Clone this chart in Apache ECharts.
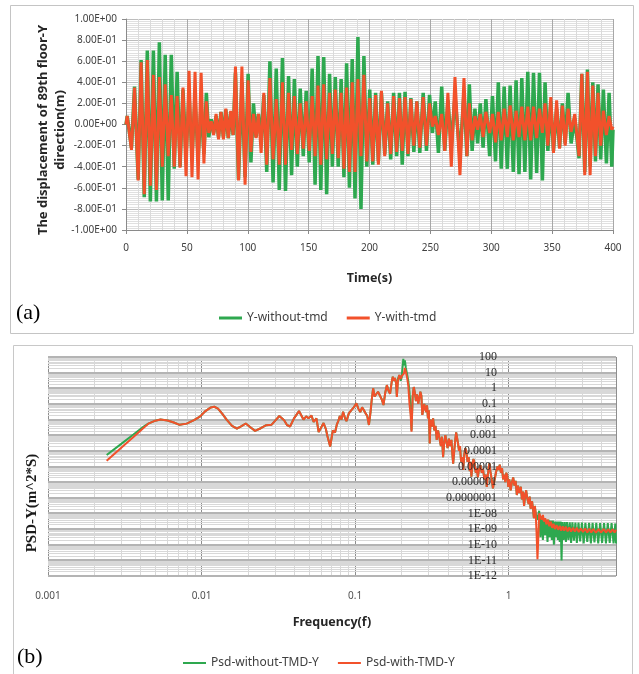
<!DOCTYPE html>
<html><head><meta charset="utf-8">
<script src="https://cdn.jsdelivr.net/npm/echarts@6/dist/echarts.min.js"></script>
<style>html,body{margin:0;padding:0;background:#fff}#c{width:639px;height:674px}</style>
</head><body><div id="c"></div><script>
// ---------- (a) time history ----------
const timeS = [0,1.0,4.5,7.0,10.0,12.4,15.0,17.5,20.0,22.5,25.0,27.4,29.8,32.2,34.7,37.2,39.6,42.0,44.4,46.8,49.3,51.8,54.2,56.7,59.2,61.7,64.0,66.0,68.0,70.0,72.0,74.0,76.0,78.0,80.0,82.0,84.0,86.0,88.0,89.9,92.4,95.2,97.8,100.3,102.6,104.7,106.8,108.8,111.0,113.2,115.6,118.2,120.8,123.4,125.9,128.5,131.0,133.5,136.0,138.3,140.7,143.1,145.6,148.0,150.5,152.9,155.3,157.7,160.0,162.4,164.8,167.2,169.5,171.9,174.3,176.7,179.0,181.2,183.5,185.8,188.1,190.5,193.0,195.4,197.8,200.2,202.7,205.0,207.3,209.8,212.5,214.9,217.4,219.8,222.3,224.6,226.9,229.2,231.6,234.0,236.4,238.9,241.3,244.1,246.8,249.3,251.7,254.0,256.6,259.3,261.8,264.4,267.2,270.2,274.3,277.6,280.0,282.0,284.3,286.6,288.8,291.0,293.3,295.6,298.7,301.0,303.5,305.8,308.2,310.6,313.2,315.5,318.1,320.4,322.8,325.1,327.6,330.0,332.4,334.7,337.3,339.6,342.0,344.2,346.5,348.9,351.1,353.7,356.1,358.4,360.7,363.1,365.6,368.6,372.1,374.4,376.8,379.0,381.2,383.4,385.6,387.7,389.9,392.1,394.6,396.8,399.0,400];
const dispWithoutTmd = [0,0.08,-0.22,0.36,-0.52,0.61,-0.69,0.70,-0.73,0.70,-0.73,0.78,-0.72,0.66,-0.72,0.66,-0.42,0.50,-0.40,0.33,-0.30,0.28,-0.30,0.25,-0.32,0.18,-0.28,0.30,-0.12,0.05,-0.08,0.08,-0.12,0.12,-0.12,0.14,-0.13,0.12,-0.10,0.49,-0.52,0.40,-0.50,0.48,-0.36,0.20,-0.12,0.10,-0.15,0.28,-0.45,0.60,-0.55,0.53,-0.62,0.63,-0.63,0.46,-0.48,0.43,-0.40,0.34,-0.30,0.32,-0.36,0.53,-0.57,0.65,-0.62,0.64,-0.66,0.48,-0.40,0.45,-0.40,0.43,-0.50,0.58,-0.60,0.62,-0.70,0.83,-0.80,0.65,-0.40,0.33,-0.38,0.30,-0.35,0.30,-0.28,0.22,-0.33,0.30,-0.30,0.30,-0.38,0.31,-0.30,0.25,-0.26,0.22,-0.27,0.30,-0.25,0.28,-0.08,0.22,-0.27,0.36,-0.25,0.23,-0.20,0.27,-0.30,0.30,-0.30,0.38,-0.25,0.15,-0.18,0.20,-0.22,0.24,-0.30,0.27,-0.35,0.40,-0.42,0.36,-0.42,0.37,-0.45,0.42,-0.47,0.44,-0.45,0.50,-0.52,0.49,-0.46,0.49,-0.53,0.40,-0.25,0.22,-0.25,0.15,-0.22,0.20,-0.18,0.30,-0.18,0.06,-0.32,0.48,-0.45,0.52,-0.40,0.40,-0.35,0.38,-0.33,0.33,-0.37,0.30,-0.40,-0.05];
const dispWithTmd = [0,0.08,-0.24,0.35,-0.53,0.59,-0.66,0.61,-0.58,0.47,-0.62,0.45,-0.40,0.38,-0.30,0.28,-0.40,0.27,-0.41,0.35,-0.49,0.51,-0.50,0.50,-0.52,0.49,-0.37,0.22,-0.08,0.03,-0.10,0.10,-0.14,0.12,-0.14,0.15,-0.13,0.13,-0.10,0.55,-0.53,0.55,-0.57,0.42,-0.26,0.10,-0.13,0.10,-0.27,0.30,-0.38,0.44,-0.33,0.24,-0.38,0.40,-0.38,0.30,-0.24,0.27,-0.28,0.20,-0.23,0.22,-0.25,0.27,-0.30,0.37,-0.38,0.38,-0.33,0.30,-0.28,0.33,-0.32,0.30,-0.42,0.35,-0.45,0.40,-0.45,0.43,-0.30,0.47,-0.35,0.25,-0.35,0.28,-0.38,0.32,-0.30,0.20,-0.28,0.27,-0.26,0.25,-0.25,0.26,-0.28,0.24,-0.20,0.22,-0.22,0.26,-0.20,0.20,-0.02,0.08,-0.10,0.10,-0.25,0.30,-0.40,0.45,-0.48,0.44,-0.30,0.20,-0.15,0.08,-0.05,0.10,-0.12,0.12,-0.08,0.10,-0.17,0.12,-0.15,0.15,-0.12,0.18,-0.15,0.13,-0.12,0.17,-0.15,0.17,-0.15,0.17,-0.13,0.15,-0.08,0.20,-0.20,0.26,-0.27,0.23,-0.23,0.18,-0.20,0.15,-0.07,0.10,-0.30,0.48,-0.48,0.50,-0.48,0.37,-0.30,0.30,-0.20,0.13,-0.10,0.08,-0.05,-0.02];
const dispTickLabels = ['-1.00E+00','-8.00E-01','-6.00E-01','-4.00E-01','-2.00E-01','0.00E+00','2.00E-01','4.00E-01','6.00E-01','8.00E-01','1.00E+00'];

// ---------- (b) PSD ----------
const psdLowWithout = [[0.00241,5.4e-5],[0.0030,2.8e-4],[0.0036,1.1e-3],[0.0042,3.6e-3]];
const psdLowWith = [[0.00241,2.3e-5],[0.0030,1.6e-4],[0.0036,7.6e-4],[0.0042,3.0e-3]];
const psdSharedA = [[0.0045,5.5e-3],[0.0050,8.5e-3],[0.0054,1.0e-2],[0.0060,8.8e-3],[0.0066,6.5e-3],[0.0072,4.6e-3],[0.0080,5.5e-3],[0.0090,9.5e-3],[0.0098,1.6e-2],[0.0106,3.5e-2],[0.0115,6.0e-2],[0.0121,6.6e-2],[0.0128,5.0e-2],[0.0137,2.2e-2],[0.0146,9.5e-3],[0.0158,4.0e-3],[0.0170,2.6e-3],[0.0182,3.8e-3],[0.0194,5.6e-3],[0.0208,3.2e-3],[0.0223,1.9e-3],[0.0243,2.8e-3],[0.0264,4.4e-3],[0.0285,4.6e-3],[0.0300,8e-3],[0.0321,1.7e-2],[0.0345,9e-3],[0.0360,4.5e-3],[0.0377,3.6e-3],[0.0400,1.2e-2],[0.0431,3.5e-2],[0.0461,1.0e-2],[0.0480,1.6e-2],[0.0497,1.2e-2],[0.0520,1.8e-2],[0.0537,7e-3],[0.0560,1.2e-2],[0.0579,1.6e-3],[0.0600,3e-3],[0.0623,6e-3],[0.0645,2.5e-3],[0.0660,9e-4],[0.0688,1.9e-4],[0.0716,2e-3],[0.0740,1.5e-3],[0.0760,4.7e-3],[0.0780,9e-3],[0.0795,1.7e-2],[0.0815,1.0e-2],[0.0835,3.2e-2],[0.0860,1.2e-2],[0.0878,8e-3],[0.0910,2.5e-2],[0.0946,4e-2],[0.0980,6e-2],[0.102,1.1e-1],[0.105,5e-2],[0.108,3e-2],[0.111,6e-2],[0.114,4e-2],[0.117,2.5e-2],[0.120,1.7e-2],[0.123,4.5e-3],[0.126,3e-2],[0.128,1.5e-1],[0.131,1.0],[0.134,0.3],[0.138,0.23],[0.141,0.6],[0.145,0.45],[0.149,0.2],[0.153,0.085],[0.157,0.5],[0.161,1.6],[0.165,0.7],[0.169,0.45],[0.173,2.5],[0.176,5.5],[0.179,3],[0.182,4.5],[0.185,2]];
const psdPeakWithout = [[0.187,0.3],[0.190,4],[0.194,7],[0.198,3],[0.201,5],[0.204,25],[0.206,75],[0.208,30],[0.211,60],[0.214,20],[0.218,8],[0.222,3],[0.226,0.6],[0.230,0.05],[0.233,2e-3]];
const psdPeakWith = [[0.187,0.28],[0.190,3],[0.194,7],[0.198,4],[0.201,6],[0.204,5],[0.206,7],[0.208,9],[0.211,20],[0.214,16],[0.218,5],[0.222,1.5],[0.226,0.1],[0.230,0.02],[0.233,1.7e-3]];
const psdSharedB = [[0.237,0.3],[0.241,1.2],[0.245,0.5],[0.249,0.15],[0.253,0.4],[0.258,0.1],[0.262,0.25],[0.266,0.6],[0.270,0.35],[0.274,0.02],[0.278,0.015],[0.282,0.1],[0.286,0.05],[0.290,0.03],[0.294,0.08],[0.298,0.012],[0.302,0.04],[0.306,3e-4],[0.310,0.01],[0.316,3.5e-3],[0.322,0.012],[0.328,2e-3],[0.334,4e-3],[0.340,5e-4],[0.347,2e-3],[0.355,1.5e-3],[0.362,2e-4],[0.368,8e-4],[0.374,4e-5],[0.380,3e-4],[0.387,1e-3],[0.393,4e-4],[0.400,1.5e-4],[0.408,6e-4],[0.416,2e-4],[0.424,5e-4],[0.430,6e-5],[0.435,1.5e-5],[0.442,1e-4],[0.450,6e-4],[0.455,1.5e-3],[0.461,1.7e-3],[0.468,3e-4],[0.475,1e-4],[0.482,2e-4],[0.490,2e-5],[0.498,4e-5],[0.506,6e-6],[0.514,6e-5],[0.522,1.5e-4],[0.531,8e-5],[0.540,2e-5],[0.549,4e-5],[0.558,5e-6],[0.565,2e-5],[0.572,2.2e-6],[0.580,1.2e-5],[0.590,3e-5],[0.600,1.5e-5],[0.610,4e-6],[0.620,8e-6],[0.630,2e-6],[0.640,6e-6],[0.655,1.2e-5],[0.668,4e-6],[0.680,7e-6],[0.695,1.5e-6],[0.710,3e-6],[0.720,5e-7],[0.730,2e-6],[0.740,8e-6],[0.750,1.6e-5],[0.760,5e-6],[0.775,1.5e-6],[0.790,4e-7],[0.800,3e-7],[0.815,2e-6],[0.830,5e-6],[0.845,1e-5],[0.860,6e-6],[0.875,1.3e-5],[0.890,4e-6],[0.905,8e-6],[0.920,1.5e-6],[0.935,3e-6],[0.950,1e-6],[0.965,4e-6],[0.980,2.5e-6],[0.995,5e-7],[1.01,1.5e-6],[1.03,3e-7],[1.05,1e-6],[1.07,2e-6],[1.09,6e-7],[1.11,1.2e-6],[1.13,1.5e-7],[1.15,6e-7],[1.17,2e-7],[1.20,5e-7],[1.22,8e-8],[1.24,2.5e-7],[1.26,3e-8],[1.28,1.5e-7],[1.30,3e-7],[1.32,1e-7],[1.35,4e-8],[1.37,1.2e-7],[1.39,2e-8],[1.42,6e-8],[1.44,2e-8],[1.46,5e-9],[1.48,3e-8],[1.50,1e-8]];
const psdTailWithout = [[1.52,1e-8],[1.55,4e-9],[1.58,1.5e-8],[1.61,3e-10],[1.64,6e-9],[1.67,2e-10],[1.70,5e-9],[1.73,4e-10],[1.76,4e-9],[1.79,1.5e-10],[1.82,4e-9],[1.85,3e-10],[1.88,3.5e-9],[1.91,2e-10],[1.94,3.5e-9],[1.97,1e-10],[2.0,3e-9],[2.03,3e-10],[2.06,3e-9],[2.09,2e-10],[2.12,3e-9],[2.15,1.5e-10],[2.18,3e-9],[2.21,1e-11],[2.24,2.8e-9],[2.28,2e-10],[2.32,2.8e-9],[2.36,1.5e-10],[2.4,2.8e-9],[2.45,2e-10],[2.5,2.7e-9],[2.55,1.3e-10],[2.6,2.7e-9],[2.66,1.8e-10],[2.72,2.6e-9],[2.78,1.3e-10],[2.85,2.6e-9],[2.92,1.6e-10],[3.0,2.6e-9],[3.08,1.2e-10],[3.16,2.5e-9],[3.25,1.5e-10],[3.34,2.5e-9],[3.43,1.2e-10],[3.52,2.5e-9],[3.62,1.4e-10],[3.72,2.5e-9],[3.83,1.2e-10],[3.94,2.4e-9],[4.06,1.3e-10],[4.18,2.4e-9],[4.3,1.2e-10],[4.42,2.4e-9],[4.55,1.3e-10],[4.68,2.4e-9],[4.82,1.2e-10],[4.95,2.3e-9],[5.0,1.2e-10]];
const psdTailWith = [[1.52,5e-10],[1.54,1.2e-11],[1.56,3e-10],[1.58,1e-8],[1.61,1.2e-8],[1.64,4e-9],[1.67,8e-9],[1.70,3e-9],[1.73,5e-9],[1.76,2e-9],[1.80,4e-9],[1.84,1.5e-9],[1.88,3e-9],[1.92,1.2e-9],[1.96,2.2e-9],[2.0,1e-9],[2.05,1.8e-9],[2.1,9e-10],[2.15,1.6e-9],[2.2,8e-10],[2.25,1.5e-9],[2.3,8e-10],[2.36,1.4e-9],[2.42,7e-10],[2.48,1.3e-9],[2.55,7e-10],[2.62,1.2e-9],[2.7,7e-10],[2.78,1.2e-9],[2.86,6.5e-10],[2.95,1.1e-9],[3.05,6.5e-10],[3.15,1.1e-9],[3.25,6e-10],[3.35,1.05e-9],[3.45,6e-10],[3.55,1e-9],[3.7,6e-10],[3.85,1e-9],[4.0,6e-10],[4.15,1e-9],[4.3,6e-10],[4.45,9.5e-10],[4.6,6e-10],[4.75,9.5e-10],[4.9,6e-10],[5.0,9e-10]];
const psdTickLabels = ['1E-12','1E-11','1E-10','1E-09','1E-08','0.0000001','0.000001','0.00001','0.0001','0.001','0.01','0.1','1','10','100'];
const freqTickLabels = ['0.001','0.01','0.1','1'];

const GREEN = '#2EA84F', RED = '#F2512B';
const sans = 'Noto Sans';

const psdWithout = psdLowWithout.concat(psdSharedA, psdPeakWithout, psdSharedB, psdTailWithout);
const psdWith = psdLowWith.concat(psdSharedA, psdPeakWith, psdSharedB, psdTailWith);

// log grid values: minor (2..9 per decade) and decade lines, drawn through the axes by a custom series
const minorGridX = [], minorGridY = [], decadeGridY = [];
for (let e = -3; e <= 0; e++) for (let m = 2; m <= 9; m++) { const v = m * Math.pow(10, e); if (v < 5) minorGridX.push(v); }
for (let e = -12; e <= 1; e++) for (let m = 2; m <= 9; m++) minorGridY.push(m * Math.pow(10, e));
for (let e = -12; e <= 2; e++) decadeGridY.push(Math.pow(10, e));
const gridItems = minorGridX.map(v => [v, 1, 0]).concat(minorGridY.map(v => [1, v, 1]), decadeGridY.map(v => [1, v, 2]));

const chart = echarts.init(document.getElementById('c'), null, { renderer: 'canvas' });
chart.setOption({
  animation: false,
  backgroundColor: '#fff',
  graphic: [
    { type: 'rect', shape: { x: 10.5, y: 5.5, width: 623, height: 328 }, style: { fill: 'none', stroke: '#c4c4c4', lineWidth: 1 }, z: -10 },
    { type: 'rect', shape: { x: 13.5, y: 345.5, width: 619, height: 340 }, style: { fill: 'none', stroke: '#c8c8c8', lineWidth: 1 }, z: -10 },
    { type: 'text', x: 16, y: 313, style: { text: '(a)', font: '22px "Liberation Serif"', fill: '#000', textVerticalAlign: 'middle' } },
    { type: 'text', x: 17, y: 657, style: { text: '(b)', font: '22px "Liberation Serif"', fill: '#000', textVerticalAlign: 'middle' } },
    { type: 'text', x: 52, y: 130, rotation: Math.PI / 2, style: { text: 'The displacement of 89th floor-Y\ndirection(m)', font: 'bold 13px "Noto Sans"', lineHeight: 17, fill: '#262626', textAlign: 'center', textVerticalAlign: 'middle' } },
    { type: 'text', x: 32, y: 503, rotation: Math.PI / 2, style: { text: 'PSD-Y(m^2*S)', font: 'bold 15px "Liberation Serif"', fill: '#1a1a1a', textAlign: 'center', textVerticalAlign: 'middle' } }
  ],
  legend: [
    { data: ['Y-without-tmd', 'Y-with-tmd'], left: 214, top: 307, icon: 'rect', itemWidth: 23, itemHeight: 3, itemGap: 19,
      textStyle: { fontFamily: sans, fontSize: 12, color: '#404040' } },
    { data: ['Psd-without-TMD-Y', 'Psd-with-TMD-Y'], left: 178, top: 652, icon: 'rect', itemWidth: 23, itemHeight: 2, itemGap: 19,
      textStyle: { fontFamily: sans, fontSize: 12, color: '#404040' } }
  ],
  grid: [
    { left: 126, top: 19, width: 487, height: 211, containLabel: false },
    { left: 48, top: 357, width: 568, height: 219, containLabel: false }
  ],
  xAxis: [
    { type: 'value', gridIndex: 0, min: 0, max: 400, interval: 50,
      name: 'Time(s)', nameLocation: 'middle', nameGap: 42,
      nameTextStyle: { fontFamily: sans, fontWeight: 'bold', fontSize: 12.5, color: '#262626' },
      axisLine: { onZero: false, lineStyle: { color: '#8a8a8a' } },
      axisTick: { show: true, length: 4, lineStyle: { color: '#8a8a8a' } },
      axisLabel: { margin: 13, fontFamily: sans, fontSize: 10, color: '#404040' },
      splitLine: { show: true, lineStyle: { color: '#a8a8a8', width: 1 } },
      minorTick: { show: false, splitNumber: 5 },
      minorSplitLine: { show: true, lineStyle: { color: '#dadada', width: 1 } } },
    { type: 'log', gridIndex: 1, min: 0.001, max: 5, interval: 1, logBase: 10,
      name: 'Frequency(f)', nameLocation: 'middle', nameGap: 40,
      nameTextStyle: { fontFamily: sans, fontWeight: 'bold', fontSize: 12.5, color: '#262626' },
      axisLine: { show: false }, axisTick: { show: false },
      axisLabel: { margin: 15, fontFamily: sans, fontSize: 10, color: '#505050',
        formatter: v => { const e = Math.log10(v); const r = Math.round(e); return Math.abs(e - r) < 1e-6 && r >= -3 && r <= 0 ? freqTickLabels[r + 3] : ''; } },
      splitLine: { show: true, lineStyle: { color: '#8e8e8e', width: 1 } } }
  ],
  yAxis: [
    { type: 'value', gridIndex: 0, min: -1, max: 1, interval: 0.2,
      axisLine: { show: true, lineStyle: { color: '#8a8a8a' } },
      axisTick: { show: true, length: 4, lineStyle: { color: '#8a8a8a' } },
      axisLabel: { margin: 9, fontFamily: sans, fontSize: 10, color: '#404040',
        formatter: v => dispTickLabels[Math.round((v + 1) / 0.2)] },
      splitLine: { show: true, lineStyle: { color: '#bdbdbd', width: 1 } },
      minorTick: { show: false, splitNumber: 10 },
      minorSplitLine: { show: true, lineStyle: { color: '#e0e0e0', width: 1 } } },
    { type: 'log', gridIndex: 1, min: 1e-12, max: 100, interval: 1, logBase: 10, offset: -460, z: 10,
      axisLine: { show: false }, axisTick: { show: false },
      axisLabel: { margin: 11, fontFamily: 'Liberation Serif', fontSize: 12, color: '#2a2a2a',
        formatter: v => { const e = Math.round(Math.log10(v)); return psdTickLabels[e + 12] || ''; } },
      splitLine: { show: false } }
  ],
  series: [
    { name: 'Y-without-tmd', type: 'line', xAxisIndex: 0, yAxisIndex: 0, data: timeS.map((t, i) => [t, dispWithoutTmd[i]]),
      symbol: 'none', color: GREEN, lineStyle: { color: GREEN, width: 3.5 }, z: 3 },
    { name: 'Y-with-tmd', type: 'line', xAxisIndex: 0, yAxisIndex: 0, data: timeS.map((t, i) => [t, dispWithTmd[i]]),
      symbol: 'none', color: RED, lineStyle: { color: RED, width: 3 }, z: 4 },
    { name: 'logGrid', type: 'custom', xAxisIndex: 1, yAxisIndex: 1, data: gridItems, z: 1, silent: true,
      renderItem: (params, api) => {
        const kind = api.value(2);
        let a, b;
        if (kind === 0) { a = api.coord([api.value(0), 1e-12]); b = api.coord([api.value(0), 100]); const x = Math.round(a[0]) + 0.5; a[0] = b[0] = x; }
        else { a = api.coord([0.001, api.value(1)]); b = api.coord([5, api.value(1)]); const y = kind === 2 ? Math.round(a[1]) : Math.round(a[1]) + 0.5; a[1] = b[1] = y; }
        return { type: 'line', shape: { x1: a[0], y1: a[1], x2: b[0], y2: b[1] },
          style: { stroke: kind === 2 ? '#b4b4b4' : '#d8d8d8', lineWidth: kind === 2 ? 2 : 1 } };
      } },
    { name: 'Psd-without-TMD-Y', type: 'line', xAxisIndex: 1, yAxisIndex: 1, data: psdWithout,
      symbol: 'none', color: GREEN, lineStyle: { color: GREEN, width: 2 }, z: 3 },
    { name: 'Psd-with-TMD-Y', type: 'line', xAxisIndex: 1, yAxisIndex: 1, data: psdWith,
      symbol: 'none', color: RED, lineStyle: { color: RED, width: 2 }, z: 4 }
  ]
});
</script></body></html>
